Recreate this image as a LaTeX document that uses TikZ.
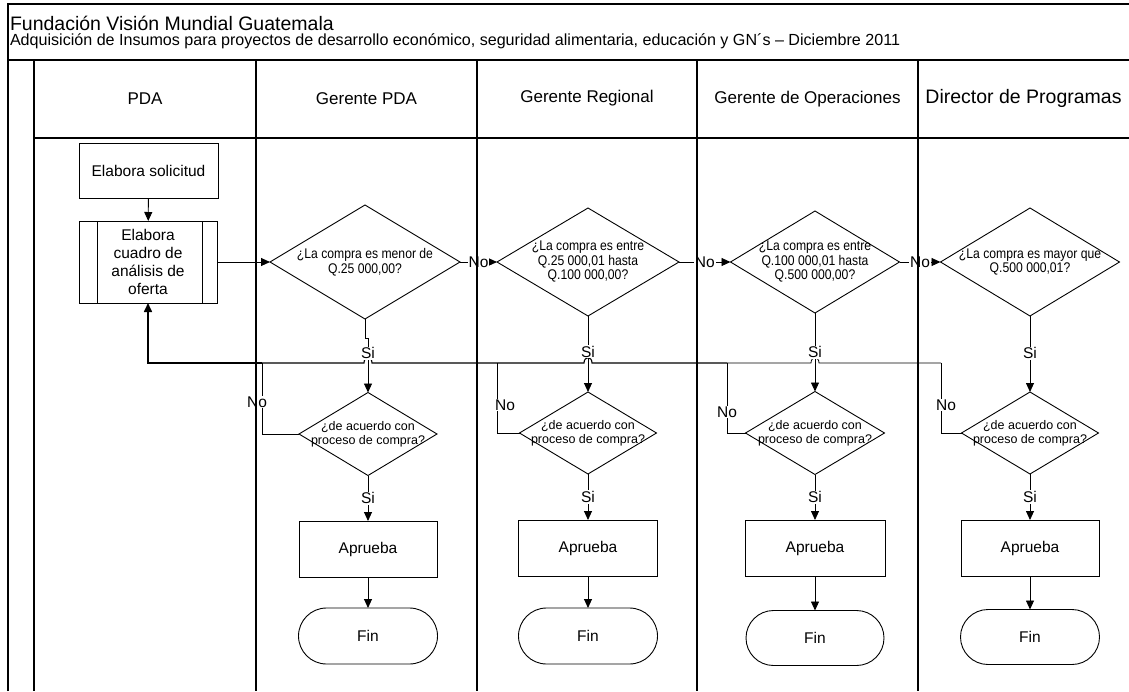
\documentclass[tikz,border=0pt]{standalone}
\usepackage{fontspec}
\setmainfont{Liberation Sans}
\newfontfamily\narrowfont[FakeStretch=0.87]{Liberation Sans}
\usetikzlibrary{arrows.meta,shapes.geometric,shapes.misc,calc}

\begin{document}
\begin{tikzpicture}[x=1pt,y=-1pt,
  every node/.style={inner sep=0pt,outer sep=0pt},
  conn/.style={line width=0.9pt},
  arr/.style={conn,-{Triangle[length=9pt,width=8pt]}},
  procbox/.style={draw,line width=0.9pt,minimum width=139pt,minimum height=56pt,align=center,font=\fontsize{15.5}{18.3}\selectfont},
  endbox/.style={draw,rounded rectangle,line width=0.9pt,minimum width=139pt,minimum height=56pt,font=\fontsize{15.5}{18.3}\selectfont},
  askbox/.style={draw,diamond,line width=0.9pt},
  qtext/.style={align=center,font=\narrowfont\fontsize{14}{14.5}\selectfont},
  ctext/.style={align=center,font=\fontsize{12.5}{14}\selectfont},
  lbl/.style={fill=white,font=\fontsize{15.5}{18}\selectfont,inner sep=1pt},
  lanehead/.style={font=\fontsize{17}{20}\selectfont},
  frame/.style={line width=1.3pt}
]
\useasboundingbox (0,0) rectangle (1129,691);

% title block
\node[anchor=base west,font=\fontsize{19.5}{22}\selectfont] (title) at (10,30) {Fundación Visión Mundial Guatemala};
\node[anchor=base west,font=\fontsize{16.1}{18}\selectfont] (subtitle) at (10,45) {Adquisición de Insumos para proyectos de desarrollo económico, seguridad alimentaria, educación y GN´s – Diciembre 2011};

% lane headers
\node[lanehead] (h1) at (145,99) {PDA};
\node[lanehead] (h2) at (366.5,99) {Gerente PDA};
\node[lanehead] (h3) at (587,98) {Gerente Regional};
\node[lanehead] (h4) at (807.5,99) {Gerente de Operaciones};
\node[font=\fontsize{19.5}{22}\selectfont] (h5) at (1023.5,98) {Director de Programas};

% PDA lane
\node[procbox,minimum width=139pt,minimum height=55pt] (sol) at (148.5,170.5) {Elabora solicitud};
\node[procbox,minimum width=138pt,minimum height=82pt] (cuadro) at (148,262) {Elabora\\cuadro de\\análisis de\\oferta};
\draw[conn] ([xshift=18pt]cuadro.north west) -- ([xshift=18pt]cuadro.south west);
\draw[conn] ([xshift=-15pt]cuadro.north east) -- ([xshift=-15pt]cuadro.south east);

% amount decisions
\node[askbox,minimum width=190pt,minimum height=114pt,label={[qtext]center:{¿La compra es menor de\\Q.25 000,00?}}] (d1) at (365,262) {};
\node[askbox,minimum width=182pt,minimum height=108pt,label={[qtext]center:{¿La compra es entre\\Q.25 000,01 hasta\\Q.100 000,00?}}] (d2) at (588,262) {};
\node[askbox,minimum width=169pt,minimum height=102pt,label={[qtext]center:{¿La compra es entre\\Q.100 000,01 hasta\\Q.500 000,00?}}] (d3) at (815,262) {};
\node[askbox,minimum width=179pt,minimum height=108pt,label={[qtext]center:{¿La compra es mayor que\\Q.500 000,01?}}] (d4) at (1030,262) {};

% process checks
\node[askbox,minimum width=138pt,minimum height=83pt,label={[ctext]center:{¿de acuerdo con\\proceso de compra?}}] (e1) at (368,434) {};
\node[askbox,minimum width=137pt,minimum height=82pt,label={[ctext]center:{¿de acuerdo con\\proceso de compra?}}] (e2) at (588,433) {};
\node[askbox,minimum width=139pt,minimum height=83pt,label={[ctext]center:{¿de acuerdo con\\proceso de compra?}}] (e3) at (815,433) {};
\node[askbox,minimum width=137pt,minimum height=82pt,label={[ctext]center:{¿de acuerdo con\\proceso de compra?}}] (e4) at (1030,433) {};

% approvals
\node[procbox,minimum width=138pt] (a1) at (368,549) {Aprueba};
\node[procbox] (a2) at (588,548) {Aprueba};
\node[procbox,minimum width=140pt] (a3) at (815,548) {Aprueba};
\node[procbox,minimum width=138pt] (a4) at (1030,548) {Aprueba};

% terminators
\node[endbox] (f1) at (368,636) {Fin};
\node[endbox] (f2) at (588,636) {Fin};
\node[endbox,minimum width=138pt,minimum height=55pt] (f3) at (815,638) {Fin};
\node[endbox,minimum height=55pt] (f4) at (1030,637) {Fin};

% return junctions
\coordinate (j1) at (262,363);
\coordinate (j2) at (497,363);
\coordinate (j3) at (727,363);
\coordinate (j4) at (941,363);

% main flow
\draw[arr] (sol) -- (cuadro);
\draw[arr] (cuadro.east) -- (d1.west);
\draw[arr] (d1.east) -- node[lbl]{No} (d2.west);
\draw[arr] (d2.east) -- node[lbl]{No} (d3.west);
\draw[arr] (d3.east) -- node[lbl]{No} (d4.west);

% return line with hops over the vertical flows
\draw[conn,line width=0.8pt] (j4) -- (819,363) .. controls (819,356) and (811,356) .. (811,363) -- (j3);
\draw[conn,line width=1.1pt] (j3) -- (592,363) .. controls (592,356) and (584,356) .. (584,363) -- (j2)
  -- (372,363) .. controls (372,356) and (364,356) .. (364,363) -- (j1);
\draw[arr,line width=1.6pt] (j1) -- (cuadro.south |- j1) -- (cuadro.south);

% "Si" branches
\draw[arr] (d1.south) -- ++(0,19) -| node[lbl,pos=0.64]{Si} (e1.north);
\draw[arr] (d2.south) -- node[lbl,pos=0.47]{Si} (e2.north);
\draw[arr] (d3.south) -- node[lbl,pos=0.5]{Si} (e3.north);
\draw[arr] (d4.south) -- node[lbl,pos=0.49]{Si} (e4.north);

\draw[arr] (e1.south) -- node[lbl]{Si} (a1.north);
\draw[arr] (e2.south) -- node[lbl]{Si} (a2.north);
\draw[arr] (e3.south) -- node[lbl]{Si} (a3.north);
\draw[arr] (e4.south) -- node[lbl]{Si} (a4.north);

\draw[arr] (a1) -- (f1);
\draw[arr] (a2) -- (f2);
\draw[arr] (a3) -- (f3);
\draw[arr] (a4) -- (f4);

% "No" branches back to the offer table
\draw[conn] (e1.west) -| node[lbl,pos=0.725,xshift=-5pt]{No} (j1);
\draw[conn] (e2.west) -| node[lbl,pos=0.7,xshift=8pt]{No} (j2);
\draw[conn] (e3.west) -| node[lbl,pos=0.65]{No} (j3);
\draw[conn] (e4.west) -| node[lbl,pos=0.7,xshift=5pt]{No} (j4);

% swimlane frame
\draw[frame] (8,691) -- (8,4) -- (1129,4);
\draw[frame] (8,60) -- (1129,60);
\draw[frame] (34,60) -- (34,691);
\draw[frame] (34,138) -- (1129,138);
\foreach \lx in {256,477,697,918} \draw[frame] (\lx,60) -- (\lx,691);
\end{tikzpicture}
\end{document}
